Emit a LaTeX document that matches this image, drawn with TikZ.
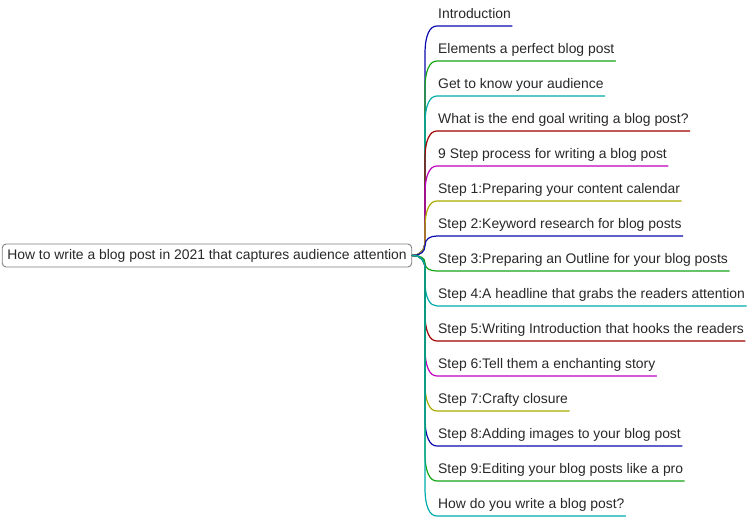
\documentclass[tikz,border=0pt]{standalone}
\usepackage{fontspec}
\setmainfont{Liberation Sans}
\usetikzlibrary{calc}
\definecolor{c0}{RGB}{10,10,175}
\definecolor{c1}{RGB}{20,165,20}
\definecolor{c2}{RGB}{0,170,170}
\definecolor{c3}{RGB}{160,0,0}
\definecolor{c4}{RGB}{190,0,190}
\definecolor{c5}{RGB}{170,170,0}
\definecolor{txt}{RGB}{40,40,40}
\begin{document}
\begin{tikzpicture}[x=1pt,y=-1pt,
  every node/.style={font=\fontsize{13.9}{16}\selectfont, text=txt},
  rootbox/.style={draw=black!50, rounded corners=4pt, line width=0.9pt, inner xsep=5pt, inner ysep=0pt, minimum height=23pt},
  leaf/.style={anchor=base west, inner xsep=1pt, inner ysep=0pt},
  conn/.style={line width=1.2pt, line cap=round}]
\useasboundingbox (0,0) rectangle (747,525);
\node[rootbox] (root) at (207,255.5) {How to write a blog post in 2021 that captures audience attention};
\foreach \t [count=\i from 0] in {Introduction,
  Elements a perfect blog post,
  Get to know your audience,
  What is the end goal writing a blog post?,
  9 Step process for writing a blog post,
  Step 1:Preparing your content calendar,
  Step 2:Keyword research for blog posts,
  Step 3:Preparing an Outline for your blog posts,
  Step 4:A headline that grabs the readers attention,
  Step 5:Writing Introduction that hooks the readers,
  Step 6:Tell them a enchanting story,
  Step 7:Crafty closure,
  Step 8:Adding images to your blog post,
  Step 9:Editing your blog posts like a pro,
  How do you write a blog post?}{
  \pgfmathsetmacro\yy{26+35*\i}
  \pgfmathsetmacro\dy{\yy-255}
  \pgfmathsetmacro\s{sign(\dy)}
  \pgfmathsetmacro\a{min(abs(\dy)/2,14)*\s}
  \pgfmathsetmacro\b{min(abs(\dy)/2,28)*\s}
  \pgfmathtruncatemacro\c{mod(\i,6)}
  \node[leaf] (n\i) at (437,\yy-7.5) {\t};
  \coordinate (u\i) at (437,\yy);
  \draw[conn, color=c\c] (root.east) .. controls +(9,0) and +(0,-0.6*\a) .. (425,255+\a)
     -- (425,\yy-\b) .. controls +(0,0.7*\b) and +(-7,0) .. (u\i) -- (u\i -| n\i.east);
}
\end{tikzpicture}
\end{document}
